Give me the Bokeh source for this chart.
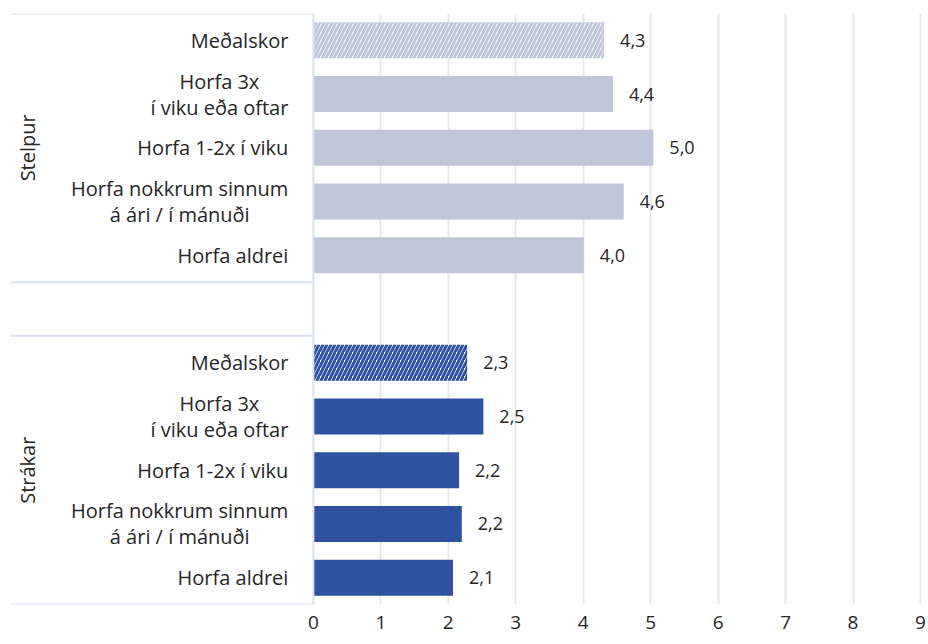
from bokeh.plotting import figure
from bokeh.models import Range1d, FixedTicker
from bokeh.core.properties import value
from bokeh.embed import file_html
from bokeh.resources import INLINE

groups = ["Stelpur", "Strákar"]
categories = ["Meðalskor", "Horfa 3x\ní viku eða oftar", "Horfa 1-2x í viku",
              "Horfa nokkrum sinnum\ná ári / í mánuði", "Horfa aldrei"]
stelpur_values = [4.31, 4.44, 5.04, 4.60, 4.01]
strakar_values = [2.28, 2.52, 2.16, 2.20, 2.07]
x_ticks = [0, 1, 2, 3, 4, 5, 6, 7, 8, 9]

colors = {"Stelpur": "#C0C6DA", "Strákar": "#2F52A0"}
FONT = "Open Sans"
TXT = "#262626"

n = len(categories)
XMIN, XMAX = -4.49, 9.03
p = figure(width=926, height=642, output_backend="svg", toolbar_location=None,
           x_range=Range1d(XMIN, XMAX), y_range=Range1d(2 * n + 0.5, -0.5),
           min_border_left=10, min_border_right=4, min_border_top=13, min_border_bottom=38)
p.outline_line_color = None
p.yaxis.visible = False
p.ygrid.grid_line_color = None
p.xaxis.ticker = FixedTicker(ticks=x_ticks)
p.xaxis.axis_line_color = None
p.xaxis.major_tick_line_color = None
p.xaxis.minor_tick_line_color = None
p.xaxis.major_label_standoff = 5
p.xaxis.major_label_text_font = FONT
p.xaxis.major_label_text_font_size = "19px"
p.xaxis.major_label_text_color = TXT
p.xgrid.ticker = FixedTicker(ticks=x_ticks[1:])
p.xgrid.grid_line_color = "#E8E8E8"
p.xgrid.grid_line_width = 2

series = {"Stelpur": stelpur_values, "Strákar": strakar_values}
for gi, g in enumerate(groups):
    base = gi * (n + 1)
    ys = [base + i for i in range(n)]
    vals = series[g]
    # solid bars (all but first, Meðalskor)
    p.hbar(y=ys[1:], left=0, right=vals[1:], height=0.67,
           fill_color=colors[g], line_color=None)
    # hatched average bar
    p.hbar(y=ys[:1], left=0, right=vals[:1], height=0.67,
           fill_color="white", line_color=None,
           hatch_pattern="/", hatch_color=colors[g], hatch_scale=8, hatch_weight=3)
    # value labels
    labels = [f"{v:.1f}".replace(".", ",") for v in vals]
    p.text(x=vals, y=ys, text=labels, x_offset=16, text_align="left",
           text_baseline="middle", text_font=value(FONT), text_font_size="18px",
           text_color=TXT)
    # category labels
    p.text(x=[0] * n, y=ys, text=categories, x_offset=-25, text_align="center",
           anchor="center_right", text_baseline="middle", text_font=value(FONT),
           text_font_size="20px", text_color=TXT, text_line_height=0.96)
    # group label
    p.text(x=[XMIN], y=[base + (n - 1) / 2], text=[g], x_offset=17, angle=1.5708,
           text_align="center", text_baseline="middle", text_font=value(FONT),
           text_font_size="20px", text_color=TXT)
    # group box lines
    p.segment(x0=[XMIN, XMIN], x1=[0, 0], y0=[base - 0.5, base + n - 0.5],
              y1=[base - 0.5, base + n - 0.5], line_color="#D9E1F2", line_width=2)

# category axis line at x=0
p.segment(x0=[0], x1=[0], y0=[-0.5], y1=[2 * n + 0.5], line_color="#D9E1F2", line_width=2)

open("out.html", "w").write(file_html(p, INLINE))
